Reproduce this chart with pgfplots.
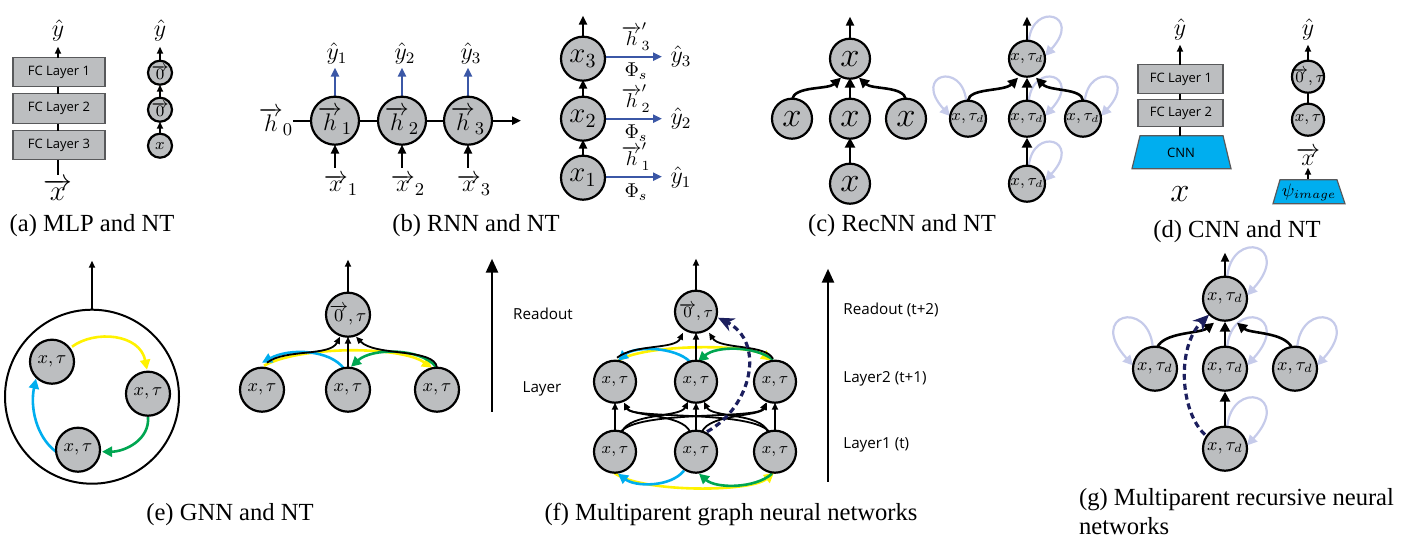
\documentclass[border=0pt]{standalone}
\usepackage{fontspec}
\setmainfont{Liberation Serif}
\newfontfamily\sansf{Open Sans}
\usepackage{pgfplots}
\pgfplotsset{compat=1.18}
\usetikzlibrary{arrows.meta}

\definecolor{ngray}{HTML}{BCBEC0}
\definecolor{bdraw}{HTML}{58595B}
\definecolor{cyanb}{HTML}{00AEEF}
\definecolor{yel}{HTML}{FFF200}
\definecolor{grn}{HTML}{00A651}
\definecolor{rnnblue}{HTML}{3B57A6}
\definecolor{navy}{HTML}{1C1F5E}
\definecolor{lav}{HTML}{C6CBEA}

\tikzset{
  arr/.style={line width=1.1pt, -{Triangle[length=4.5pt,width=4pt]}},
  sarr/.style={line width=0.9pt, -{Triangle[length=3.5pt,width=3pt]}},
  rarr/.style={rnnblue, line width=1.2pt, -{Triangle[length=4.5pt,width=4pt]}},
  carr/.style={line width=1.3pt, -{Triangle[length=5pt,width=5pt]}},
  lp/.style={lav, line width=1.1pt, -{Triangle[length=5pt,width=5pt]}},
  dsh/.style={navy, line width=1.6pt, dash pattern=on 3pt off 2pt, -{Stealth[length=8pt,width=7pt]}},
  captxt/.style={font=\fontsize{12.3}{14}\selectfont},
  mlab/.style={font=\fontsize{#1}{#1}\selectfont, inner sep=0pt},
  slab/.style={font=\sansf\fontsize{#1}{#1}\selectfont, inner sep=0pt},
}
\pgfplotsset{
  circ/.style 2 args={only marks, mark=*, mark size=#1,
    mark options={fill=ngray, draw=black, line width=1.1pt},
    point meta=explicit symbolic, nodes near coords, nodes near coords align=center,
    every node near coord/.append style={font=#2, text=black, inner sep=0pt}},
  boxst/.style={fill=ngray, draw=bdraw, line width=0.7pt},
}
% self loops: centre x, centre y, radius (pixels)
\newcommand\loopR[3]{\draw[lp] (#1+0.1*#3,#2-#3) .. controls (#1+0.33*#3,#2-3.2*#3) and (#1+3.1*#3,#2-2.45*#3) .. (#1+#3,#2-0.15*#3);}
\newcommand\loopL[3]{\draw[lp] (#1-0.1*#3,#2-#3) .. controls (#1-0.33*#3,#2-3.2*#3) and (#1-3.1*#3,#2-2.45*#3) .. (#1-#3,#2-0.15*#3);}

\begin{document}
\begin{tikzpicture}
\begin{axis}[x=0.5pt, y=0.5pt, y dir=reverse, xmin=0, xmax=1403, ymin=0, ymax=525,
  hide axis, clip=false, scale only axis]
\path (0,0) rectangle (1403,525);

% ---------------- (a) MLP and NT
\addplot[boxst] coordinates {(13,46) (105,46) (105,75) (13,75)} -- cycle;
\addplot[boxst] coordinates {(13,82) (105,82) (105,112) (13,112)} -- cycle;
\addplot[boxst] coordinates {(13,119) (105,119) (105,148) (13,148)} -- cycle;
\node[slab=6.5] at (59,61) {FC Layer 1};
\node[slab=6.5] at (59,97) {FC Layer 2};
\node[slab=6.5] at (59,134) {FC Layer 3};
\draw[line width=1pt] (58,75) -- (58,82);
\draw[line width=1pt] (58,112) -- (58,119);
\draw[line width=1.1pt] (58,163) -- (58,148);
\draw[sarr] (58,46) -- (58,35);
\node[mlab=12] at (58,19) {$\hat{y}$};
\node[mlab=14] at (58,178) {$\overrightarrow{x}$};
\draw[sarr] (160,122) -- (160,110);
\draw[sarr] (160,86) -- (160,73);
\draw[sarr] (160,49) -- (160,35);
\node[mlab=12] at (160,19) {$\hat{y}$};
\addplot[circ={6pt}{\fontsize{8}{8}\selectfont}] table[meta=lab, row sep=\\] {
x y lab\\ 160 61 {$\overrightarrow{0}$}\\ 160 98 {$\overrightarrow{0}$}\\ 160 134 {$x$}\\};
\node[captxt] at (92,214) {(a) MLP and NT};

% ---------------- (b) RNN and NT
\draw[line width=1.2pt] (293,109) -- (311,109);
\draw[line width=1.2pt] (359,109) -- (378,109);
\draw[line width=1.2pt] (426,109) -- (444,109);
\draw[arr] (492,109) -- (521,109);
\node[mlab=13] at (276,110) {$\overrightarrow{h}_0$};
\draw[rarr] (335,85) -- (335,56);
\draw[rarr] (402,85) -- (402,56);
\draw[rarr] (468,85) -- (468,56);
\node[mlab=12] at (337,42) {$\hat{y}_1$};
\node[mlab=12] at (405,42) {$\hat{y}_2$};
\node[mlab=12] at (471,42) {$\hat{y}_3$};
\draw[arr] (335,156) -- (335,133);
\draw[arr] (402,156) -- (402,133);
\draw[arr] (468,156) -- (468,133);
\node[mlab=13] at (341,173) {$\overrightarrow{x}_1$};
\node[mlab=13] at (408,173) {$\overrightarrow{x}_2$};
\node[mlab=13] at (474,173) {$\overrightarrow{x}_3$};
\addplot[circ={12pt}{\fontsize{13}{13}\selectfont}] table[meta=lab, row sep=\\] {
x y lab\\ 335 109 {$\overrightarrow{h}_1$}\\ 402 109 {$\overrightarrow{h}_2$}\\ 468 109 {$\overrightarrow{h}_3$}\\};
\draw[arr] (583,25) -- (583,4);
\draw[arr] (583,85) -- (583,68);
\draw[arr] (583,144) -- (583,128);
\draw[rarr] (605,45) -- (662,45);
\draw[rarr] (605,107) -- (662,107);
\draw[rarr] (606,165) -- (662,165);
\node[mlab=12] at (681,45) {$\hat{y}_3$};
\node[mlab=12] at (681,107) {$\hat{y}_2$};
\node[mlab=12] at (681,166) {$\hat{y}_1$};
\node[mlab=10] at (636,25) {$\overrightarrow{h}'_3$};
\node[mlab=10] at (636,87) {$\overrightarrow{h}'_2$};
\node[mlab=10] at (636,145) {$\overrightarrow{h}'_1$};
\node[mlab=10] at (636,59) {$\Phi_s$};
\node[mlab=10] at (636,121) {$\Phi_s$};
\node[mlab=10] at (636,180) {$\Phi_s$};
\addplot[circ={11pt}{\fontsize{14}{14}\selectfont}] table[meta=lab, row sep=\\] {
x y lab\\ 583 47 {$x_3$}\\ 583 107 {$x_2$}\\ 583 166 {$x_1$}\\};
\node[captxt] at (476,214) {(b) RNN and NT};

% ---------------- (c) RecNN and NT
\draw[arr] (850,27) -- (850,5);
\draw[carr] (850,87) -- (850,66);
\draw[carr] (850,152) -- (850,126);
\draw[carr] (792,88) .. controls (794,74) and (828,78) .. (841,66);
\draw[carr] (906,88) .. controls (904,74) and (872,78) .. (859,66);
\addplot[circ={10pt}{\fontsize{17}{17}\selectfont}] table[meta=lab, row sep=\\] {
x y lab\\ 850 47 {$x$}\\ 792 107 {$x$}\\ 850 107 {$x$}\\ 906 107 {$x$}\\ 850 172 {$x$}\\};
\loopR{1027}{47}{18}
\loopL{968}{107}{18}
\loopR{1027}{107}{18}
\loopR{1083}{107}{18}
\loopR{1027}{172}{18}
\draw[arr] (1027,29) -- (1027,5);
\draw[carr] (1027,89) -- (1027,66);
\draw[carr] (1027,154) -- (1027,126);
\draw[carr] (968,89) .. controls (969,76) and (1004,80) .. (1018,66);
\draw[carr] (1083,89) .. controls (1082,76) and (1050,80) .. (1036,66);
\addplot[circ={9pt}{\fontsize{7.6}{8}\selectfont}] table[meta=lab, row sep=\\] {
x y lab\\ 1027 47 {$x,\tau_d$}\\ 968 107 {$x,\tau_d$}\\ 1027 107 {$x,\tau_d$}\\ 1083 107 {$x,\tau_d$}\\ 1027 172 {$x,\tau_d$}\\};
\node[captxt] at (902,214) {(c) RecNN and NT};

% ---------------- (d) CNN and NT
\addplot[boxst] coordinates {(1138,53) (1223,53) (1223,82) (1138,82)} -- cycle;
\addplot[boxst] coordinates {(1138,88) (1223,88) (1223,115) (1138,115)} -- cycle;
\addplot[fill=cyanb, draw=bdraw, line width=0.6pt] coordinates {(1140,124) (1223,124) (1231,157) (1132,157)} -- cycle;
\node[slab=6.5] at (1181,68) {FC Layer 1};
\node[slab=6.5] at (1181,102) {FC Layer 2};
\node[slab=6.5] at (1181,141) {CNN};
\draw[line width=1pt] (1180,82) -- (1180,88);
\draw[line width=1pt] (1180,115) -- (1180,124);
\draw[sarr] (1180,53) -- (1180,33);
\node[mlab=12] at (1180,18) {$\hat{y}$};
\node[mlab=16] at (1180,182) {$x$};
\draw[line width=1pt] (1308,81) -- (1308,92);
\draw[sarr] (1308,49) -- (1308,33);
\node[mlab=12] at (1308,18) {$\hat{y}$};
\node[mlab=12] at (1308,145) {$\overrightarrow{x}$};
\draw[sarr] (1308,168) -- (1308,156);
\addplot[fill=cyanb, draw=bdraw, line width=0.6pt] coordinates {(1280,168) (1337,168) (1345,192) (1273,192)} -- cycle;
\node[mlab=9] at (1309,181) {$\psi_{image}$};
\addplot[circ={8pt}{\fontsize{7.6}{8}\selectfont}] table[meta=lab, row sep=\\] {
x y lab\\ 1308 65 {$\overrightarrow{0},\tau$}\\ 1308 108 {$x,\tau$}\\};
\node[captxt] at (1237,220) {(d) CNN and NT};

% ---------------- (e) GNN and NT
\draw[sarr] (92,298) -- (92,249);
\addplot[only marks, mark=o, mark size=43.5pt, mark options={draw=black, line width=1pt}] coordinates {(92,385)};
\draw[yel, carr] (72,335) .. controls (95,318) and (140,322) .. (147,358);
\draw[grn, carr] (148,405) .. controls (150,428) and (125,440) .. (102,440);
\draw[cyanb, carr] (56,440) .. controls (36,425) and (30,395) .. (36,367);
\draw[sarr] (348,281) -- (348,248);
\draw[yel, carr] (264,354) .. controls (300,334) and (400,334) .. (432,356);
\draw[cyanb, carr] (344,357) .. controls (330,338) and (290,336) .. (262,351);
\draw[grn, carr] (436,355) .. controls (420,336) and (372,336) .. (351,355);
\draw[sarr] (348,356) -- (348,325);
\draw[sarr] (267,351) .. controls (285,337) and (330,345) .. (340,325);
\draw[sarr] (437,356) .. controls (435,336) and (375,345) .. (356,325);
\addplot[circ={11pt}{\fontsize{9}{9}\selectfont}] table[meta=lab, row sep=\\] {
x y lab\\ 52 350 {$x,\tau$}\\ 148 382 {$x,\tau$}\\ 78 438 {$x,\tau$}\\ 348 303 {$\overrightarrow{0},\tau$}\\ 262 378 {$x,\tau$}\\ 348 378 {$x,\tau$}\\ 437 378 {$x,\tau$}\\};
\node[captxt] at (230,503) {(e) GNN and NT};

% ---------------- (f) Multiparent graph neural networks
\draw[line width=1.3pt, -{Triangle[length=7pt,width=6pt]}] (492,400) -- (492,247);
\node[slab=7.6] at (543,302) {Readout};
\node[slab=7.6] at (542,377) {Layer};
\draw[line width=1.3pt, -{Triangle[length=7pt,width=6pt]}] (828,470) -- (828,257);
\node[slab=7.6, anchor=west] at (843,298) {Readout (t+2)};
\node[slab=7.6, anchor=west] at (843,367) {Layer2 (t+1)};
\node[slab=7.6, anchor=west] at (843,433) {Layer1 (t)};
\draw[sarr] (696,279) -- (696,247);
% colored arcs, middle row
\draw[yel, carr] (617,350) .. controls (640,332) and (750,332) .. (771,349);
\draw[cyanb, carr] (690,350) .. controls (675,335) and (635,334) .. (618,349);
\draw[grn, carr] (773,348) .. controls (755,334) and (716,334) .. (698,350);
% colored arcs, bottom row
\draw[yel, carr] (614,461) .. controls (640,481) and (750,481) .. (774,461);
\draw[cyanb, carr] (684,459) .. controls (670,476) and (635,475) .. (618,462);
\draw[grn, carr] (772,462) .. controls (755,477) and (716,477) .. (699,462);
% middle to readout
\draw[sarr] (696,349) -- (696,321);
\draw[sarr] (617,346) .. controls (635,332) and (675,338) .. (683,321);
\draw[sarr] (773,347) .. controls (765,332) and (720,338) .. (709,321);
% bottom to middle
\draw[sarr] (615,419) -- (615,391);
\draw[sarr] (696,419) -- (696,391);
\draw[sarr] (775,419) -- (775,391);
\draw[sarr] (622,420) .. controls (630,401) and (680,406) .. (688,390);
\draw[sarr] (620,421) .. controls (636,398) and (758,408) .. (766,391);
\draw[sarr] (690,420) .. controls (682,402) and (632,405) .. (624,391);
\draw[sarr] (702,420) .. controls (710,402) and (760,405) .. (767,391);
\draw[sarr] (770,421) .. controls (754,398) and (632,408) .. (624,391);
\draw[sarr] (768,420) .. controls (760,401) and (712,406) .. (704,390);
\draw[dsh] (707,420) .. controls (752,395) and (766,330) .. (718,306);
\addplot[circ={10.5pt}{\fontsize{8}{8}\selectfont}] table[meta=lab, row sep=\\] {
x y lab\\ 696 300 {$\overrightarrow{0},\tau$}\\ 615 370 {$x,\tau$}\\ 696 370 {$x,\tau$}\\ 775 370 {$x,\tau$}\\ 615 440 {$x,\tau$}\\ 696 440 {$x,\tau$}\\ 775 440 {$x,\tau$}\\};
\node[captxt] at (731,503) {(f) Multiparent graph neural networks};

% ---------------- (g) Multiparent recursive neural networks
\loopR{1225}{287}{22}
\loopL{1155}{357}{22}
\loopR{1225}{357}{22}
\loopR{1295}{357}{22}
\loopR{1225}{437}{22}
\draw[arr] (1225,265) -- (1225,241);
\draw[carr] (1225,335) -- (1225,310);
\draw[carr] (1225,415) -- (1225,380);
\draw[carr] (1157,336) .. controls (1164,320) and (1200,322) .. (1214,311);
\draw[carr] (1292,336) .. controls (1284,320) and (1250,322) .. (1237,311);
\draw[dsh] (1205,423) .. controls (1180,400) and (1176,335) .. (1209,303);
\addplot[circ={11pt}{\fontsize{9}{9}\selectfont}] table[meta=lab, row sep=\\] {
x y lab\\ 1225 287 {$x,\tau_d$}\\ 1155 357 {$x,\tau_d$}\\ 1225 357 {$x,\tau_d$}\\ 1295 357 {$x,\tau_d$}\\ 1225 437 {$x,\tau_d$}\\};
\node[captxt, anchor=west] at (1072,488) {(g) Multiparent recursive neural};
\node[captxt, anchor=west] at (1072,514) {networks};
\end{axis}
\end{tikzpicture}
\end{document}
